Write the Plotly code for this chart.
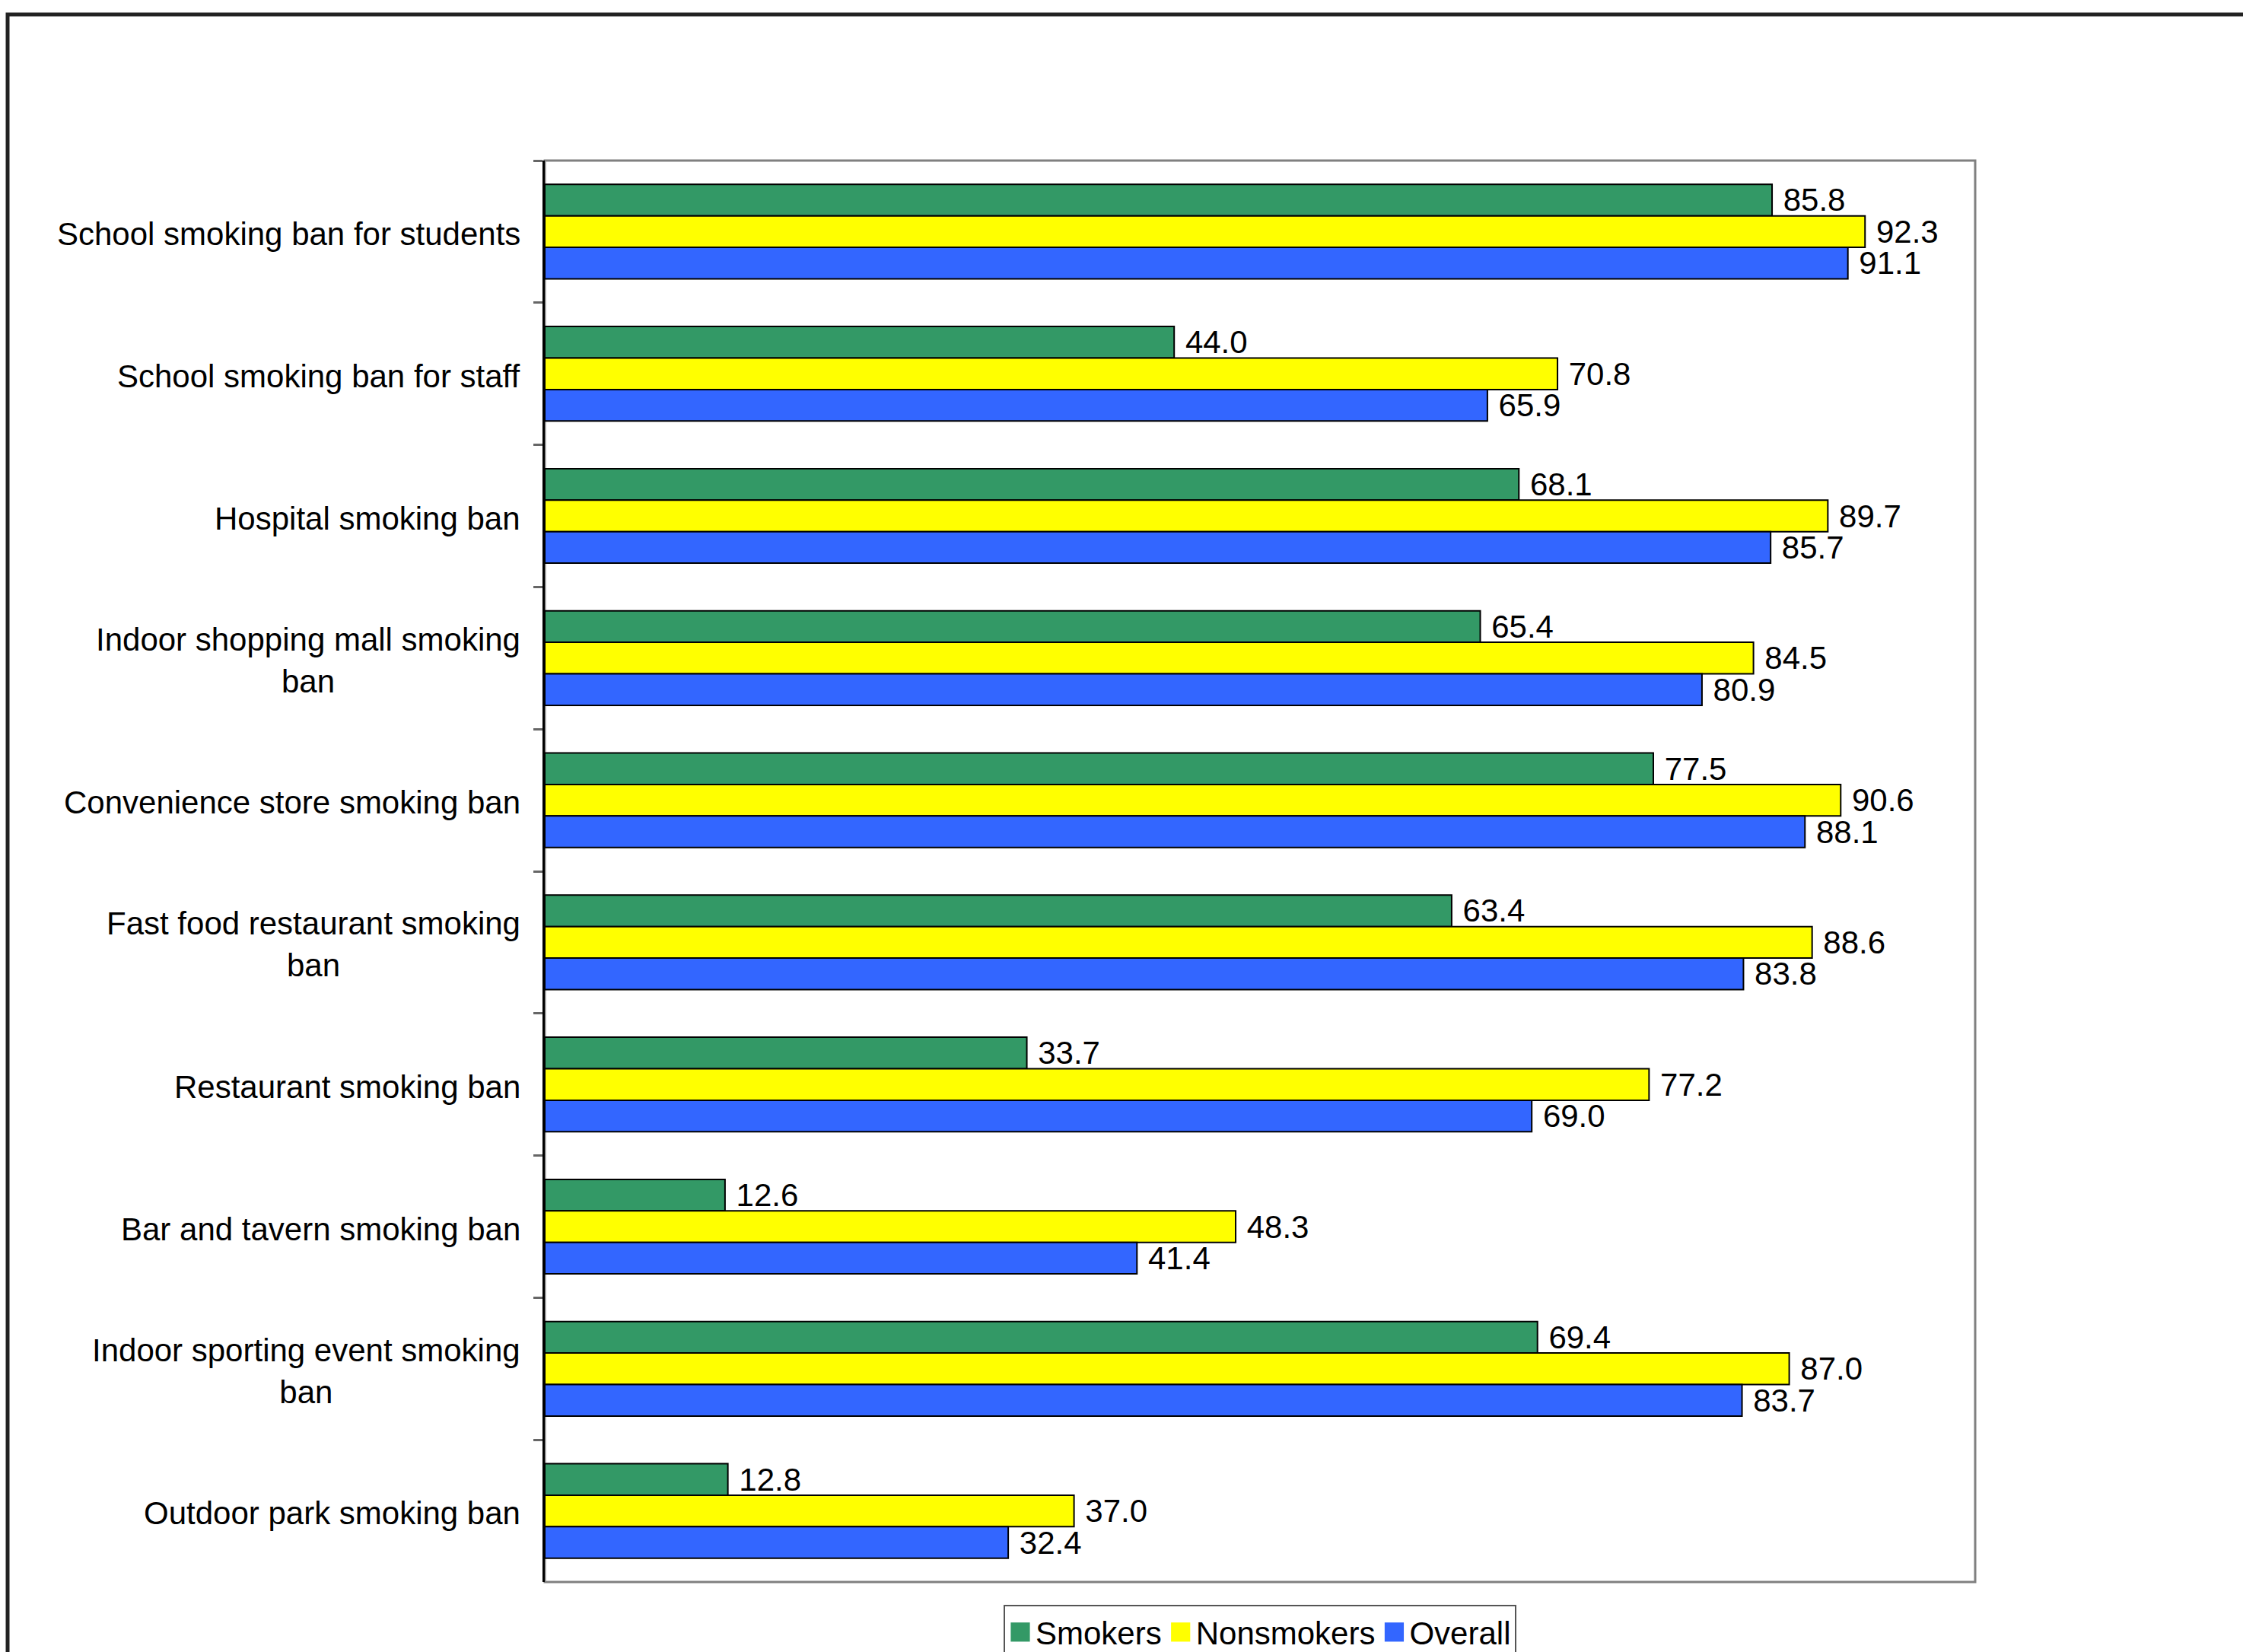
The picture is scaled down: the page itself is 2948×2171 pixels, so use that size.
import plotly.graph_objects as go

categories = [
    "School smoking ban for students",
    "School smoking ban for staff",
    "Hospital smoking ban",
    "Indoor shopping mall smoking ban",
    "Convenience store smoking ban",
    "Fast food restaurant smoking ban",
    "Restaurant smoking ban",
    "Bar and tavern smoking ban",
    "Indoor sporting event smoking ban",
    "Outdoor park smoking ban",
]
category_labels = [
    "School smoking ban for students",
    "School smoking ban for staff",
    "Hospital smoking ban",
    "Indoor shopping mall smoking<br>ban",
    "Convenience store smoking ban",
    "Fast food restaurant smoking<br>ban",
    "Restaurant smoking ban",
    "Bar and tavern smoking ban",
    "Indoor sporting event smoking<br>ban",
    "Outdoor park smoking ban",
]
smokers = [85.8, 44.0, 68.1, 65.4, 77.5, 63.4, 33.7, 12.6, 69.4, 12.8]
nonsmokers = [92.3, 70.8, 89.7, 84.5, 90.6, 88.6, 77.2, 48.3, 87.0, 37.0]
overall = [91.1, 65.9, 85.7, 80.9, 88.1, 83.8, 69.0, 41.4, 83.7, 32.4]

series = [
    ("Smokers", smokers, "#339966"),
    ("Nonsmokers", nonsmokers, "#FFFF00"),
    ("Overall", overall, "#3366FF"),
]

FONT = "Liberation Sans, Arial, sans-serif"

fig = go.Figure()
for name, vals, color in series:
    fig.add_trace(go.Bar(
        y=categories, x=vals, name=name, orientation="h",
        marker=dict(color=color, line=dict(color="#000000", width=2)),
        text=vals, texttemplate="\u00a0%{x:.1f}", textposition="outside",
        constraintext="none", cliponaxis=False,
        textfont=dict(family=FONT, size=42, color="#000000"),
    ))

W, H = 2948, 2171
L, R, T, B = 716, 2596, 211, 2079
pw, ph = R - L, B - T

for cat, lab in zip(categories, category_labels):
    fig.add_annotation(
        x=0, xref="paper", y=cat, yref="y", text=lab, showarrow=False,
        xanchor="right", yanchor="middle", align="center", xshift=-30, yshift=-3,
        font=dict(family=FONT, size=42, color="#000000"),
    )

# outer chart frame
fig.add_shape(type="rect", xref="paper", yref="paper",
              x0=(10 - L) / pw, x1=(W + 40 - L) / pw,
              y0=(B - (H + 40)) / ph, y1=(B - 19) / ph,
              line=dict(color="#222222", width=5), fillcolor="rgba(0,0,0,0)", layer="below")
# plot area border
fig.add_shape(type="rect", xref="paper", yref="paper", x0=0, x1=1, y0=0, y1=1,
              line=dict(color="#808080", width=3), fillcolor="rgba(0,0,0,0)", layer="below")

fig.update_layout(
    width=W, height=H,
    margin=dict(l=L, r=W - R, t=T, b=H - B, autoexpand=False),
    paper_bgcolor="white", plot_bgcolor="white",
    barmode="group", bargap=0.335, bargroupgap=0,
    font=dict(family=FONT, size=42, color="#000000"),
    showlegend=True,
    legend=dict(orientation="h", x=0.5, xanchor="center", y=-30 / ph, yanchor="top",
                bgcolor="white", bordercolor="#555555", borderwidth=2,
                font=dict(family=FONT, size=42, color="#000000"),
                traceorder="normal"),
    xaxis=dict(range=[0, 100], showticklabels=False, showgrid=False, zeroline=False,
               ticks="", showline=False),
    yaxis=dict(autorange="reversed", showticklabels=False, showgrid=False, zeroline=False,
               showline=True, linecolor="#000000", linewidth=3,
               ticks="outside", tickson="boundaries", ticklen=12, tickcolor="#666666", tickwidth=3),
)

post = """
var gd = document.getElementById('{plot_id}');
function fixLegend(){
  gd.querySelectorAll('.legend .legendpoints path').forEach(function(p){
    var orig = p.getAttribute('data-orig-t');
    if (orig === null) {
      orig = p.getAttribute('transform') || '';
      p.setAttribute('data-orig-t', orig);
    }
    p.setAttribute('transform', orig + ' scale(2.1)');
    p.style.strokeWidth = '0px';
  });
}
fixLegend();
gd.on('plotly_afterplot', fixLegend);
"""

fig.write_html("out.html", post_script=post)
